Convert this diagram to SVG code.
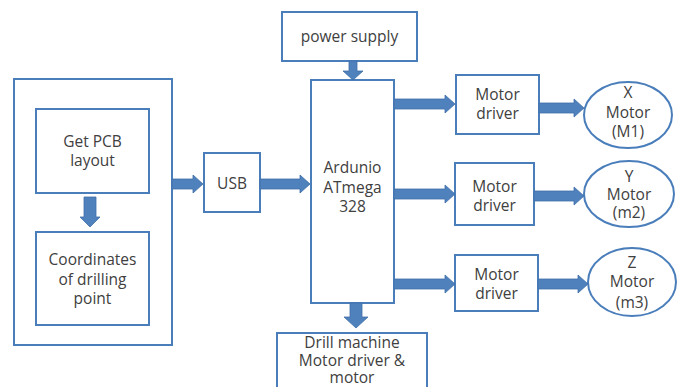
<svg xmlns="http://www.w3.org/2000/svg" width="686" height="387" viewBox="0 0 686 387">
  <style>
    .box { fill: #ffffff; stroke: #4a7ebb; stroke-width: 2; }
    .arrow { fill: #4f81bd; stroke: #3f6fa8; stroke-width: 0.8; }
    text { font-family: "Open Sans", "Liberation Sans", sans-serif; font-size: 15.5px; fill: #404040; text-anchor: middle; }
  </style>
  <rect width="686" height="387" fill="#ffffff"/>

  <g id="pc">
    <rect class="box" x="14" y="79" width="158" height="266"/>
  </g>
  <g id="get-pcb">
    <rect class="box" x="36" y="109" width="113" height="84"/>
    <text x="92.5" y="147">Get PCB</text>
    <text x="92.5" y="166">layout</text>
  </g>
  <g id="coordinates">
    <rect class="box" x="36" y="232" width="113" height="93"/>
    <text x="92.5" y="265">Coordinates</text>
    <text x="92.5" y="285">of drilling</text>
    <text x="92.5" y="304">point</text>
  </g>
  <g id="usb">
    <rect class="box" x="204" y="153" width="56" height="59"/>
    <text x="232" y="189">USB</text>
  </g>
  <g id="power-supply">
    <rect class="box" x="282" y="12" width="135" height="49"/>
    <text x="349.5" y="42">power supply</text>
  </g>
  <g id="arduino">
    <rect class="box" x="311" y="80" width="83" height="223"/>
    <text x="352.5" y="173">Ardunio</text>
    <text x="352.5" y="193">ATmega</text>
    <text x="352.5" y="212">328</text>
  </g>
  <g id="drill">
    <rect class="box" x="277" y="333" width="150" height="60"/>
    <text x="352" y="348">Drill machine</text>
    <text x="352" y="366">Motor driver &amp;</text>
    <text x="352" y="383">motor</text>
  </g>
  <g id="driver-x">
    <rect class="box" x="456" y="75" width="83" height="59"/>
    <text x="497.5" y="100">Motor</text>
    <text x="497.5" y="119">driver</text>
  </g>
  <g id="driver-y">
    <rect class="box" x="455" y="163" width="79" height="62"/>
    <text x="494.5" y="192">Motor</text>
    <text x="494.5" y="211">driver</text>
  </g>
  <g id="driver-z">
    <rect class="box" x="455" y="255" width="83" height="56"/>
    <text x="496.5" y="280">Motor</text>
    <text x="496.5" y="299">driver</text>
  </g>
  <g id="motor-x">
    <ellipse class="box" cx="628" cy="115" rx="44" ry="33"/>
    <text x="628" y="98">X</text>
    <text x="628" y="118">Motor</text>
    <text x="628" y="137">(M1)</text>
  </g>
  <g id="motor-y">
    <ellipse class="box" cx="629" cy="194" rx="45" ry="33"/>
    <text x="629" y="182">Y</text>
    <text x="629" y="200">Motor</text>
    <text x="629" y="218">(m2)</text>
  </g>
  <g id="motor-z">
    <ellipse class="box" cx="632" cy="282" rx="44" ry="34"/>
    <text x="632" y="268">Z</text>
    <text x="632" y="287">Motor</text>
    <text x="632" y="308">(m3)</text>
  </g>

  <g id="connectors">
    <!-- down: get layout -> coordinates -->
    <polygon class="arrow" points="84,197 96,197 96,217 100,217 90,227 80,217 84,217"/>
    <!-- down: power supply -> arduino -->
    <polygon class="arrow" points="349,61 357,61 357,71 363,71 353,80 343,71 349,71"/>
    <!-- down: arduino -> drill -->
    <polygon class="arrow" points="350,303 362,303 362,317 368,317 356,328 344,317 350,317"/>
    <!-- right: pc -> usb -->
    <polygon class="arrow" points="172,179 193,179 193,175 203,184 193,193 193,189 172,189"/>
    <!-- right: usb -> arduino -->
    <polygon class="arrow" points="260,179 300,179 300,175 310,184 300,193 300,189 260,189"/>
    <!-- arduino -> drivers -->
    <polygon class="arrow" points="394,99 445,99 445,95 455,104 445,113 445,109 394,109"/>
    <polygon class="arrow" points="394,189 445,189 445,185 455,194 445,203 445,199 394,199"/>
    <polygon class="arrow" points="394,279 445,279 445,275 455,284 445,293 445,289 394,289"/>
    <!-- drivers -> motors -->
    <polygon class="arrow" points="539,103 574,103 574,99 584,108 574,117 574,113 539,113"/>
    <polygon class="arrow" points="534,191 574,191 574,187 584,196 574,205 574,201 534,201"/>
    <polygon class="arrow" points="538,279 578,279 578,275 588,284 578,293 578,289 538,289"/>
  </g>
</svg>
